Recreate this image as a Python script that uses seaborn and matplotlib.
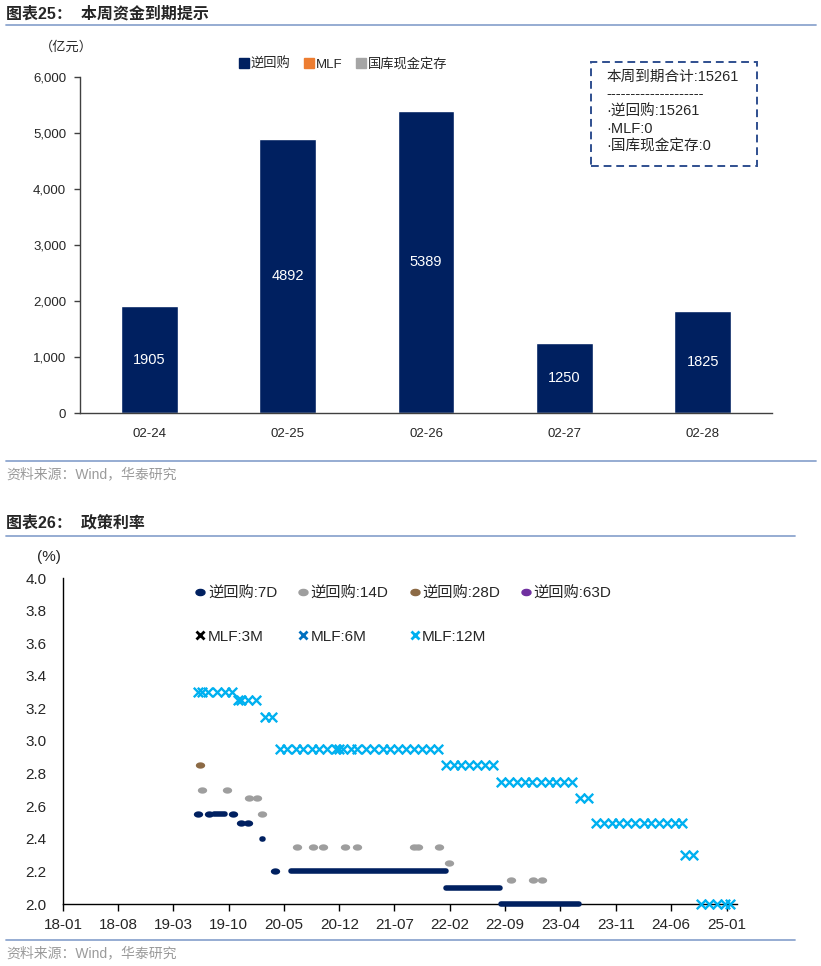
import numpy as np
import pandas as pd
import matplotlib
matplotlib.use("Agg")
import matplotlib.pyplot as plt
import matplotlib.dates as mdates
from matplotlib.lines import Line2D
from matplotlib.patches import Rectangle
from matplotlib.path import Path
from matplotlib.ticker import FuncFormatter
import seaborn as sns

# ---------------- 图表25 data ----------------
days = ["02-24", "02-25", "02-26", "02-27", "02-28"]
repo_due = [1905, 4892, 5389, 1250, 1825]
mlf_due = [0, 0, 0, 0, 0]
deposit_due = [0, 0, 0, 0, 0]
box_lines = ["本周到期合计:15261", "--------------------",
             "·逆回购:15261", "·MLF:0", "·国库现金定存:0"]

# ---------------- 图表26 data ----------------
# 7D reverse repo: (start, end, rate); start == end means a single operation
r7_start = ["2019-06-04", "2019-07-17", "2019-08-07", "2019-10-19", "2019-11-16", "2019-12-16",
            "2020-02-06", "2020-03-28", "2020-05-30", "2022-01-17", "2022-08-15"]
r7_end = ["2019-06-04", "2019-07-17", "2019-09-18", "2019-10-19", "2019-11-16", "2019-12-16",
          "2020-02-12", "2020-03-28", "2022-01-14", "2022-08-12", "2023-06-12"]
r7_rate = [2.55, 2.55, 2.55, 2.55, 2.50, 2.50, 2.40, 2.20, 2.20, 2.10, 2.00]

r14_dates = ["2019-06-19", "2019-09-23", "2019-12-19", "2020-01-20", "2020-02-08",
             "2020-06-20", "2020-08-23", "2020-09-29", "2020-12-22", "2021-02-05",
             "2021-09-14", "2021-09-29", "2021-12-21", "2022-01-27",
             "2022-09-23", "2022-12-17", "2023-01-21"]
r14_rates = [2.70, 2.70, 2.65, 2.65, 2.55,
             2.35, 2.35, 2.35, 2.35, 2.35,
             2.35, 2.35, 2.35, 2.25,
             2.15, 2.15, 2.15]

r28_dates = ["2019-06-13"]
r28_rates = [2.85]
r63_dates, r63_rates = [], []
mlf3_dates, mlf3_rates = [], []
mlf6_dates, mlf6_rates = [], []

mlf12_dates = [
    "2019-06-06", "2019-06-19", "2019-07-15", "2019-08-16", "2019-09-17", "2019-10-16",
    "2019-11-05", "2019-11-19", "2019-12-16", "2020-01-15",
    "2020-02-17", "2020-03-16",
    "2020-04-15", "2020-05-15", "2020-06-15", "2020-07-15", "2020-08-17", "2020-09-15",
    "2020-10-15", "2020-11-16", "2020-11-30", "2020-12-15", "2021-01-15", "2021-02-08",
    "2021-03-15", "2021-04-15", "2021-05-17", "2021-06-15", "2021-07-15", "2021-08-16",
    "2021-09-15", "2021-10-15", "2021-11-15", "2021-12-15",
    "2022-01-17", "2022-02-15", "2022-03-15", "2022-04-15", "2022-05-16", "2022-06-15",
    "2022-07-15",
    "2022-08-15", "2022-09-15", "2022-10-17", "2022-11-15", "2022-12-15", "2023-01-17",
    "2023-02-15", "2023-03-15", "2023-04-17", "2023-05-15",
    "2023-06-15", "2023-07-17",
    "2023-08-15", "2023-09-15", "2023-10-16", "2023-11-15", "2023-12-15", "2024-01-15",
    "2024-02-18", "2024-03-15", "2024-04-15", "2024-05-15", "2024-06-17", "2024-07-15",
    "2024-07-25", "2024-08-26",
    "2024-09-25", "2024-10-25", "2024-11-25", "2024-12-25", "2025-01-15",
]
mlf12_rates = ([3.30] * 6 + [3.25] * 4 + [3.15] * 2 + [2.95] * 22 + [2.85] * 7
               + [2.75] * 10 + [2.65] * 2 + [2.50] * 12 + [2.30] * 2 + [2.00] * 5)

tick_months = pd.date_range("2018-01-01", "2025-01-01", freq="7MS")
y_ticks = [2.0, 2.2, 2.4, 2.6, 2.8, 3.0, 3.2, 3.4, 3.6, 3.8, 4.0]

# ---------------- style ----------------
sns.set_theme(style="white")
plt.rcParams["font.family"] = ["Liberation Sans", "Noto Sans CJK SC"]
plt.rcParams["axes.unicode_minus"] = False

NAVY = "#002060"
ORANGE = "#ED7D31"
LGRAY = "#A5A5A5"
GRAY14 = "#9E9E9E"
BROWN = "#8C6A45"
PURPLE = "#7030A0"
BLUE6 = "#0070C0"
CYAN = "#00B0F0"
RULE = "#8EA6CF"
SRC = "#9A9A9A"

W, H = 821, 966
fig = plt.figure(figsize=(W / 100, H / 100), dpi=100)


def fx(px):
    return px / W


def fy(py):
    return 1 - py / H


# oval marker like the source dots
t = np.linspace(0, 2 * np.pi, 41)
OVAL = Path(np.column_stack([np.cos(t), 0.68 * np.sin(t)]))

# ================= 图表25 =================
fig.text(fx(6), fy(14), "图表25：  本周资金到期提示", fontsize=11.5, fontweight="bold",
         va="center", ha="left")
fig.add_artist(Line2D([fx(6), fx(816)], [fy(25), fy(25)], color=RULE, lw=1.3))
fig.text(fx(40), fy(47), "（亿元）", fontsize=9.5, va="center")

ax1 = fig.add_axes([fx(80), fy(413), fx(772) - fx(80), fy(77) - fy(413)])
sns.barplot(x=days, y=repo_due, color=NAVY, saturation=1, width=0.41, ax=ax1)
ax1.bar_label(ax1.containers[0], labels=[str(v) for v in repo_due], label_type="center",
              color="white", fontsize=10.5)
ax1.set_xlim(-0.5, 4.5)
ax1.set_ylim(0, 6000)
ax1.set_yticks(range(0, 6001, 1000))
ax1.yaxis.set_major_formatter(FuncFormatter(lambda v, p: f"{v:,.0f}"))
for s in ["top", "right"]:
    ax1.spines[s].set_visible(False)
for s in ["left", "bottom"]:
    ax1.spines[s].set_color("#404040")
    ax1.spines[s].set_linewidth(1.0)
ax1.tick_params(axis="y", left=True, length=4, width=1, color="#404040", labelsize=9.5, pad=6)
ax1.tick_params(axis="x", bottom=False, labelsize=9.5, pad=5)
ax1.set_xlabel("")
ax1.set_ylabel("")

h25 = [Line2D([], [], marker="s", ls="", ms=7, color=c) for c in (NAVY, ORANGE, LGRAY)]
fig.legend(h25, ["逆回购", "MLF", "国库现金定存"], loc="center",
           bbox_to_anchor=(fx(343), fy(64)), ncol=3, frameon=False, fontsize=9.5,
           handlelength=0.8, handletextpad=0.1, columnspacing=1.0)

fig.add_artist(Rectangle((fx(591), fy(166)), fx(757) - fx(591), (166 - 62) / H,
                         transform=fig.transFigure, fill=False, edgecolor="#2F4F8F",
                         lw=1.4, ls=(0, (4, 2.5))))
for line, yy in zip(box_lines, [77, 94, 112, 129, 146]):
    fig.text(fx(606), fy(yy), line, fontsize=10.5, va="center", ha="left")

fig.add_artist(Line2D([fx(6), fx(816)], [fy(461), fy(461)], color=RULE, lw=1.3))
fig.text(fx(6), fy(474), "资料来源：Wind，华泰研究", fontsize=10, color=SRC, va="center")

# ================= 图表26 =================
fig.text(fx(6), fy(523), "图表26：  政策利率", fontsize=11.5, fontweight="bold",
         va="center", ha="left")
fig.add_artist(Line2D([fx(6), fx(795)], [fy(536), fy(536)], color=RULE, lw=1.3))
fig.text(fx(37), fy(557), "(%)", fontsize=11, va="center")

ax2 = fig.add_axes([fx(63), fy(904), fx(737) - fx(63), fy(578) - fy(904)])

# 7D: runs as thick rounded lines, single operations as ovals
single_d, single_r = [], []
for s, e, r in zip(r7_start, r7_end, r7_rate):
    if s == e:
        single_d.append(pd.Timestamp(s))
        single_r.append(r)
    else:
        ax2.plot([pd.Timestamp(s), pd.Timestamp(e)], [r, r], color=NAVY, lw=4,
                 solid_capstyle="round", clip_on=False, zorder=3)
sns.scatterplot(x=single_d, y=single_r, marker=OVAL, s=45, color=NAVY, linewidth=0,
                ax=ax2, clip_on=False, zorder=3)
sns.scatterplot(x=pd.to_datetime(r14_dates), y=r14_rates, marker=OVAL, s=45, color=GRAY14,
                linewidth=0, ax=ax2, clip_on=False, zorder=3)
sns.scatterplot(x=pd.to_datetime(r28_dates), y=r28_rates, marker=OVAL, s=45, color=BROWN,
                linewidth=0, ax=ax2, clip_on=False, zorder=3)
sns.scatterplot(x=pd.to_datetime(mlf12_dates), y=mlf12_rates, marker="x", s=46, color=CYAN,
                linewidth=1.7, ax=ax2, clip_on=False, zorder=4)

ax2.set_xlim(pd.Timestamp("2018-01-01"), pd.Timestamp("2025-02-10"))
ax2.set_ylim(2.0, 4.0)
ax2.set_xticks(tick_months)
ax2.xaxis.set_major_formatter(mdates.DateFormatter("%y-%m"))
ax2.set_yticks(y_ticks)
ax2.yaxis.set_major_formatter(FuncFormatter(lambda v, p: f"{v:.1f}"))
for s in ["top", "right"]:
    ax2.spines[s].set_visible(False)
for s in ["left", "bottom"]:
    ax2.spines[s].set_color("#000000")
    ax2.spines[s].set_linewidth(1.0)
    ax2.spines[s].set_zorder(2)
ax2.tick_params(axis="y", left=True, length=0, labelsize=11, pad=12)
ax2.tick_params(axis="x", bottom=True, direction="out", length=5, width=1, color="#000000",
                labelsize=11, pad=5)
ax2.set_xlabel("")
ax2.set_ylabel("")

h_r7 = Line2D([], [], marker=OVAL, ls="", ms=6.5, color=NAVY)
h_r14 = Line2D([], [], marker=OVAL, ls="", ms=6.5, color=GRAY14)
h_r28 = Line2D([], [], marker=OVAL, ls="", ms=6.5, color=BROWN)
h_r63 = Line2D([], [], marker=OVAL, ls="", ms=6.5, color=PURPLE)
h_m3 = Line2D([], [], marker="x", ls="", ms=6, mew=2, color="#000000")
h_m6 = Line2D([], [], marker="x", ls="", ms=6, mew=2, color=BLUE6)
h_m12 = Line2D([], [], marker="x", ls="", ms=6, mew=2, color=CYAN)
handles = [h_r7, h_m3, h_r14, h_m6, h_r28, h_m12, h_r63]
labels = ["逆回购:7D", "MLF:3M", "逆回购:14D", "MLF:6M", "逆回购:28D", "MLF:12M", "逆回购:63D"]
fig.legend(handles, labels, loc="upper left", bbox_to_anchor=(fx(188), fy(579)), ncol=4,
           frameon=False, fontsize=11, handlelength=0.6, handletextpad=0.2,
           columnspacing=1.4, labelspacing=1.9, borderpad=0)

fig.add_artist(Line2D([fx(6), fx(795)], [fy(940), fy(940)], color=RULE, lw=1.3))
fig.text(fx(6), fy(953), "资料来源：Wind，华泰研究", fontsize=10, color=SRC, va="center")

fig.savefig("out.png", dpi=100)
